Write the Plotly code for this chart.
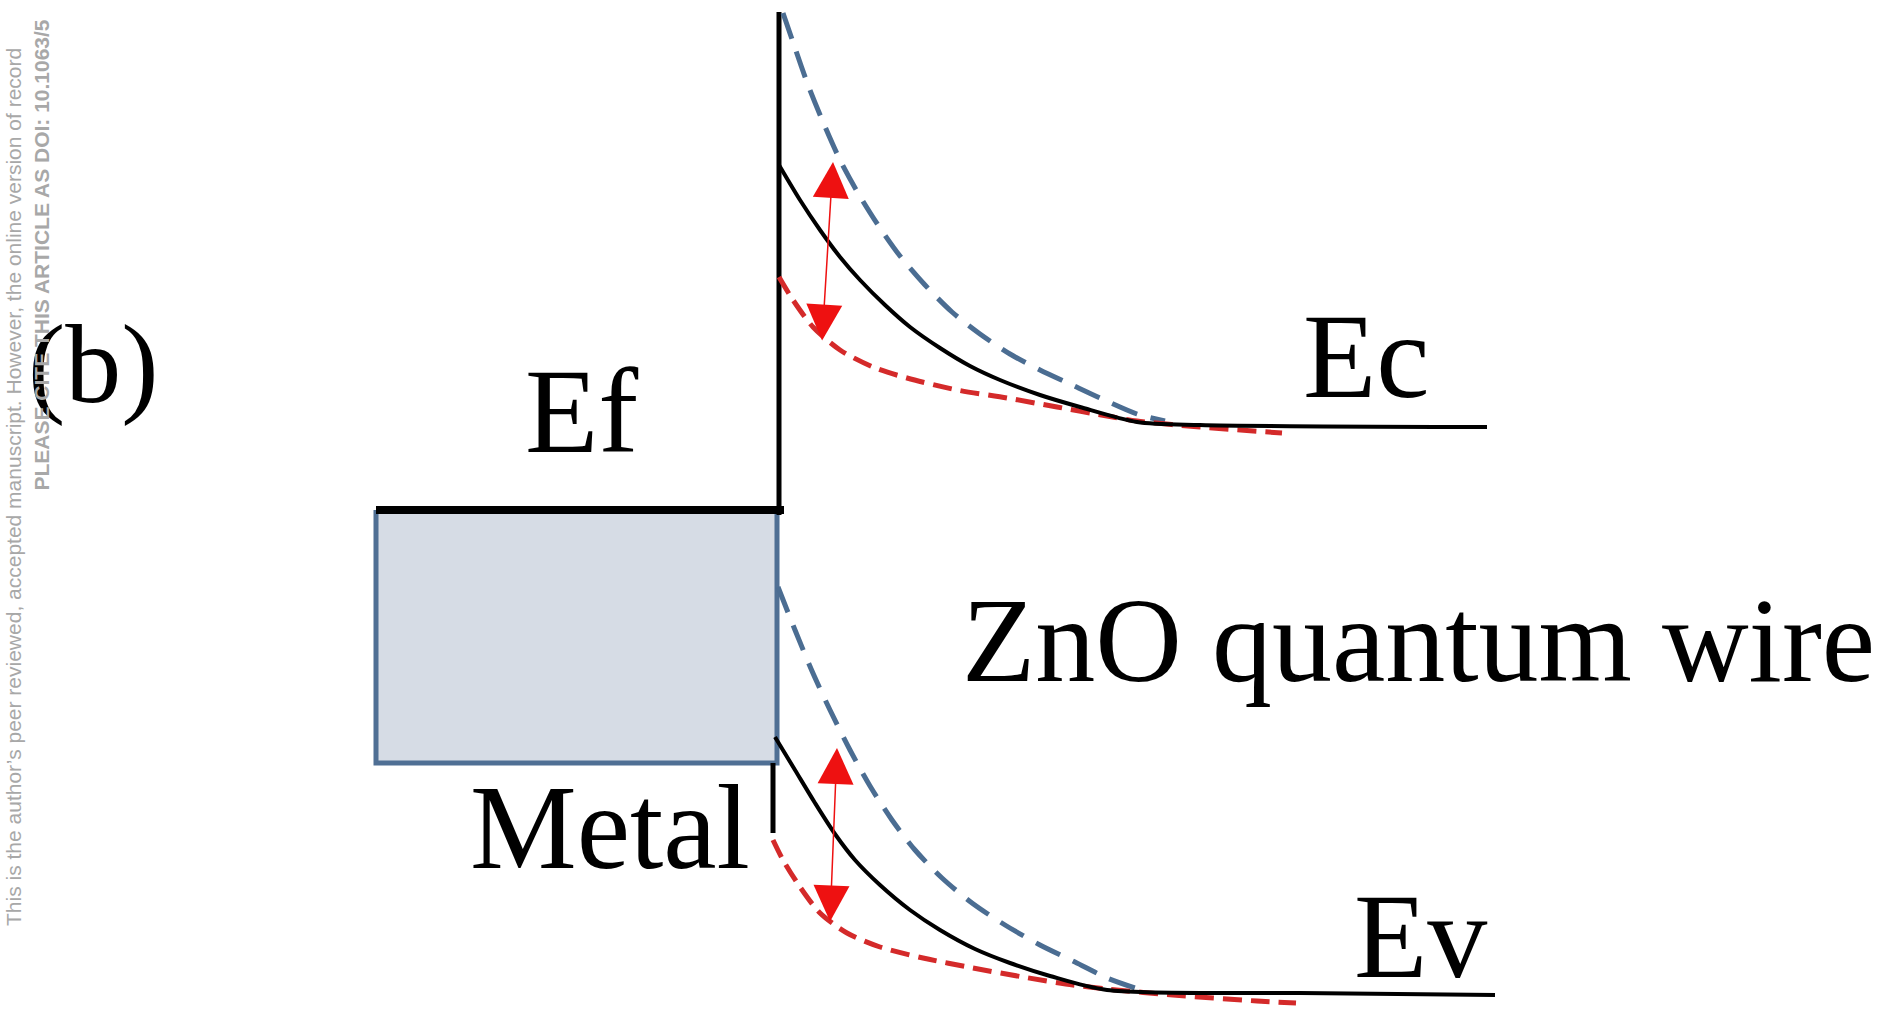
import plotly.graph_objects as go

# ---------------- data (pixel-like units, y grows downward) -------------
# Schottky barrier wall and metal Fermi level
barrier_x = [779, 779]
barrier_y = [12, 515]
fermi_x = [376, 784]
fermi_y = [510, 510]
metal_box_x = [376, 777, 777, 376, 376]
metal_box_y = [510, 510, 763, 763, 510]
lower_wall_x = [773, 773]
lower_wall_y = [763, 833]

# Conduction band (Ec)
ec_solid_x = [779, 800, 820, 840, 860, 885, 910, 940, 970, 1000, 1040, 1080, 1137, 1200, 1487]
ec_solid_y = [165, 200, 230, 257, 280, 305, 327, 348, 366, 380, 395, 407, 422, 425, 427]
ec_blue_x = [783, 795, 808, 823, 840, 858, 878, 900, 925, 952, 980, 1010, 1040, 1070, 1100, 1137, 1165]
ec_blue_y = [13, 48, 85, 122, 160, 193, 225, 256, 285, 312, 334, 354, 370, 384, 398, 414, 421]
ec_red_x = [779, 793, 813, 840, 873, 907, 957, 1007, 1057, 1107, 1137, 1200, 1282]
ec_red_y = [277, 300, 327, 350, 367, 378, 390, 398, 407, 416, 421, 427, 433]

# Valence band (Ev)
ev_solid_x = [775, 795, 815, 835, 855, 880, 910, 940, 975, 1010, 1050, 1107, 1300, 1495]
ev_solid_y = [737, 770, 803, 834, 860, 885, 910, 930, 949, 963, 976, 990, 993, 995]
ev_blue_x = [778, 795, 812, 830, 850, 870, 892, 915, 942, 972, 1005, 1040, 1075, 1107, 1135]
ev_blue_y = [587, 630, 671, 710, 750, 786, 820, 850, 878, 903, 925, 945, 962, 978, 988]
ev_red_x = [773, 783, 800, 820, 847, 880, 923, 973, 1023, 1073, 1107, 1173, 1257, 1296]
ev_red_y = [840, 860, 887, 913, 933, 947, 958, 968, 977, 985, 989, 995, 1001, 1003]

# double-headed red arrows: (head x, head y, tail x, tail y)
arrows_head_x = [833, 837]
arrows_head_y = [162, 748]
arrows_tail_x = [822, 830]
arrows_tail_y = [342, 923]

# labels
label_text = ["(b)", "Ef", "Ec", "Ev", "ZnO quantum wire", "Metal"]
label_x = [93, 581, 1366, 1420, 1418, 610]
label_baseline = [402, 452, 397, 977, 681, 868]
label_size = [112, 120, 120, 120, 120, 120]

watermark_lines = [
    "This is the author\u2019s peer reviewed, accepted manuscript. However, the online version of record",
    "<b>PLEASE CITE THIS ARTICLE AS DOI: 10.1063/5</b>",
]
watermark_x = [13, 41]
watermark_start_y = [928, 493]
watermark_size = [21, 21]

# ---------------- styles ----------------
BLACK = "#000000"
BLUE = "#4b6d92"
RED = "#d42a2a"
ARROW_RED = "#ee1111"
W, H = 1891, 1011

fig = go.Figure()

# metal box
fig.add_trace(go.Scatter(x=metal_box_x, y=metal_box_y, mode="lines", fill="toself",
                         fillcolor="#d6dce5", line=dict(color="#4f6f94", width=5),
                         hoverinfo="skip", showlegend=False))
# Fermi level and walls
fig.add_trace(go.Scatter(x=fermi_x, y=fermi_y, mode="lines",
                         line=dict(color=BLACK, width=8), hoverinfo="skip", showlegend=False))
fig.add_trace(go.Scatter(x=barrier_x, y=barrier_y, mode="lines",
                         line=dict(color=BLACK, width=5), hoverinfo="skip", showlegend=False))
fig.add_trace(go.Scatter(x=lower_wall_x, y=lower_wall_y, mode="lines",
                         line=dict(color=BLACK, width=5), hoverinfo="skip", showlegend=False))

# bands
for xs, ys, col, w, dash in [
    (ec_blue_x, ec_blue_y, BLUE, 5, "27px,14px"),
    (ev_blue_x, ev_blue_y, BLUE, 5, "27px,14px"),
    (ec_red_x, ec_red_y, RED, 5, "19px,9px"),
    (ev_red_x, ev_red_y, RED, 5, "19px,9px"),
    (ec_solid_x, ec_solid_y, BLACK, 4, "solid"),
    (ev_solid_x, ev_solid_y, BLACK, 4, "solid"),
]:
    fig.add_trace(go.Scatter(x=xs, y=ys, mode="lines",
                             line=dict(color=col, width=w, dash=dash, shape="spline", smoothing=0.8),
                             hoverinfo="skip", showlegend=False))

annotations = []
for hx, hy, tx, ty in zip(arrows_head_x, arrows_head_y, arrows_tail_x, arrows_tail_y):
    annotations.append(dict(x=hx, y=hy, ax=tx, ay=ty, xref="x", yref="y", axref="x", ayref="y",
                            text="", showarrow=True, arrowhead=2, startarrowhead=2,
                            arrowside="end+start", arrowsize=4.8, startarrowsize=4.8,
                            arrowwidth=1.5, arrowcolor=ARROW_RED, standoff=0, startstandoff=0))

for t, x, b, fs in zip(label_text, label_x, label_baseline, label_size):
    annotations.append(dict(x=x, y=b - 0.3375 * fs, xref="x", yref="y", text=t, showarrow=False,
                            xanchor="center", yanchor="middle",
                            font=dict(family="Liberation Serif, Times New Roman, serif", size=fs, color=BLACK)))

for t, x, y0, fs in zip(watermark_lines, watermark_x, watermark_start_y, watermark_size):
    annotations.append(dict(x=x, y=y0, xref="x", yref="y", text=t, showarrow=False, textangle=-90,
                            xanchor="center", yanchor="bottom",
                            font=dict(family="Liberation Sans Narrow, Arial Narrow, Liberation Sans, sans-serif",
                                      size=fs, color="#a8a8a8")))

fig.update_layout(
    width=W, height=H, margin=dict(l=0, r=0, t=0, b=0),
    paper_bgcolor="white", plot_bgcolor="white",
    xaxis=dict(range=[0, W], visible=False, fixedrange=True),
    yaxis=dict(range=[H, 0], visible=False, fixedrange=True),
    annotations=annotations, showlegend=False,
)

fig.write_html("out.html", config={"displayModeBar": False})
